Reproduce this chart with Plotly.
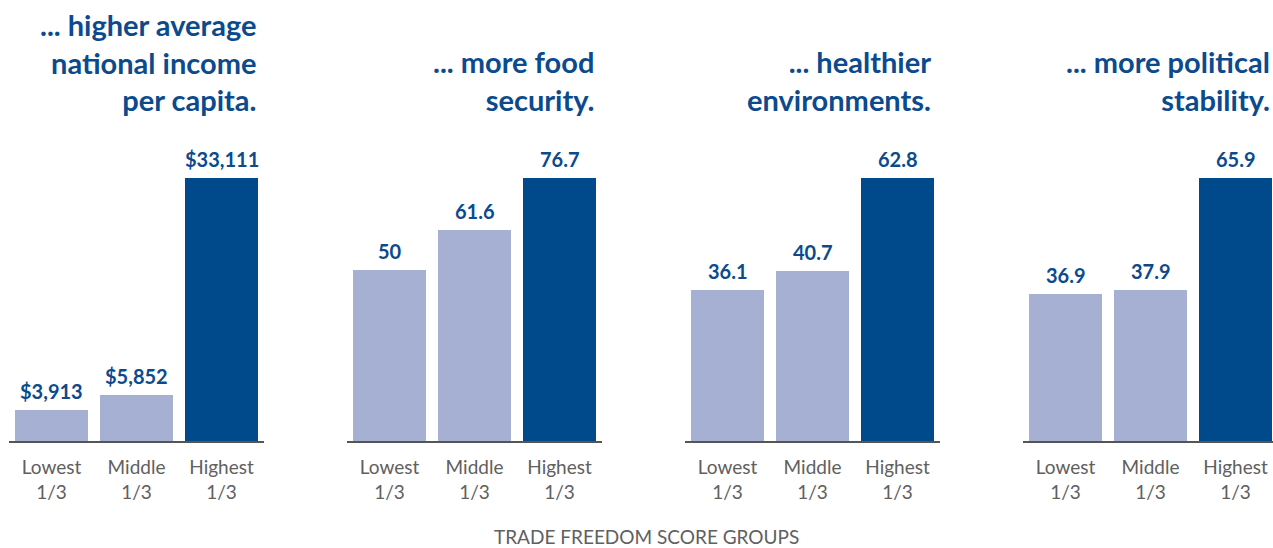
import plotly.graph_objects as go

W, H = 1273, 548

categories = ["Lowest<br>1/3", "Middle<br>1/3", "Highest<br>1/3"]
titles = [
    "... higher average<br>national income<br>per capita.",
    "... more food<br>security.",
    "... healthier<br>environments.",
    "... more political<br>stability.",
]
income = [3913, 5852, 33111]
food = [50, 61.6, 76.7]
environment = [36.1, 40.7, 62.8]
political = [36.9, 37.9, 65.9]
series = [income, food, environment, political]
label_fmt = ["${:,.0f}", "{:g}", "{:g}", "{:g}"]
axis_title = "TRADE FREEDOM SCORE GROUPS"

LIGHT = "#A5B0D2"
DARK = "#004A8C"
BLUE_TXT = "#0B4A8D"
GREY = "#555555"
TXT_GREY = "#606060"

panel_left_px = [9, 347, 685, 1023]
unit_px = 85
base_px = 441
top_px = 178

fig = go.Figure()
for i, vals in enumerate(series):
    ax = "" if i == 0 else str(i + 1)
    left = panel_left_px[i]
    right = min(left + 3 * unit_px, W)
    rng_max = -0.5 + (right - left) / unit_px
    fig.add_trace(go.Bar(
        x=[0, 1, 2], y=vals, width=73 / 85,
        marker=dict(color=[LIGHT, LIGHT, DARK], line=dict(width=0)),
        xaxis="x" + ax, yaxis="y" + ax, hoverinfo="skip", showlegend=False,
    ))
    fig.layout["xaxis" + ax] = dict(
        domain=[left / W, right / W], range=[-0.5, rng_max],
        tickmode="array", tickvals=[0, 1, 2], ticktext=categories,
        showline=True, linecolor=GREY, linewidth=2, showgrid=False, zeroline=False,
        ticks="", ticklabelstandoff=8,
        tickfont=dict(family="Lato", size=19, color=TXT_GREY),
        anchor="y" + ax, fixedrange=True,
    )
    fig.layout["yaxis" + ax] = dict(
        domain=[(H - base_px) / H, (H - top_px) / H], range=[0, max(vals)],
        visible=False, anchor="x" + ax, fixedrange=True,
    )
    for j, v in enumerate(vals):
        fig.add_annotation(
            x=j, y=v, xref="x" + ax, yref="y" + ax, text=label_fmt[i].format(v),
            showarrow=False, yanchor="bottom", yshift=5,
            font=dict(family="Lato", size=20, color=BLUE_TXT, weight="bold"),
        )
    bar_right = left + 2.5 * unit_px + 73 / 2 - 0.5
    fig.add_annotation(
        x=bar_right / W, y=(H - 119) / H, xref="paper", yref="paper",
        text=titles[i], showarrow=False, xanchor="right", yanchor="bottom",
        align="right",
        font=dict(family="Lato", size=29, color=BLUE_TXT, weight="bold"),
    )

fig.add_annotation(
    x=646 / W, y=0, xref="paper", yref="paper", text=axis_title,
    showarrow=False, xanchor="center", yanchor="bottom", yshift=-2,
    font=dict(family="Lato", size=19, color=TXT_GREY),
)

fig.update_layout(
    width=W, height=H, margin=dict(l=0, r=0, t=0, b=0),
    paper_bgcolor="white", plot_bgcolor="white", bargap=0,
)
fig.write_html("out.html")
